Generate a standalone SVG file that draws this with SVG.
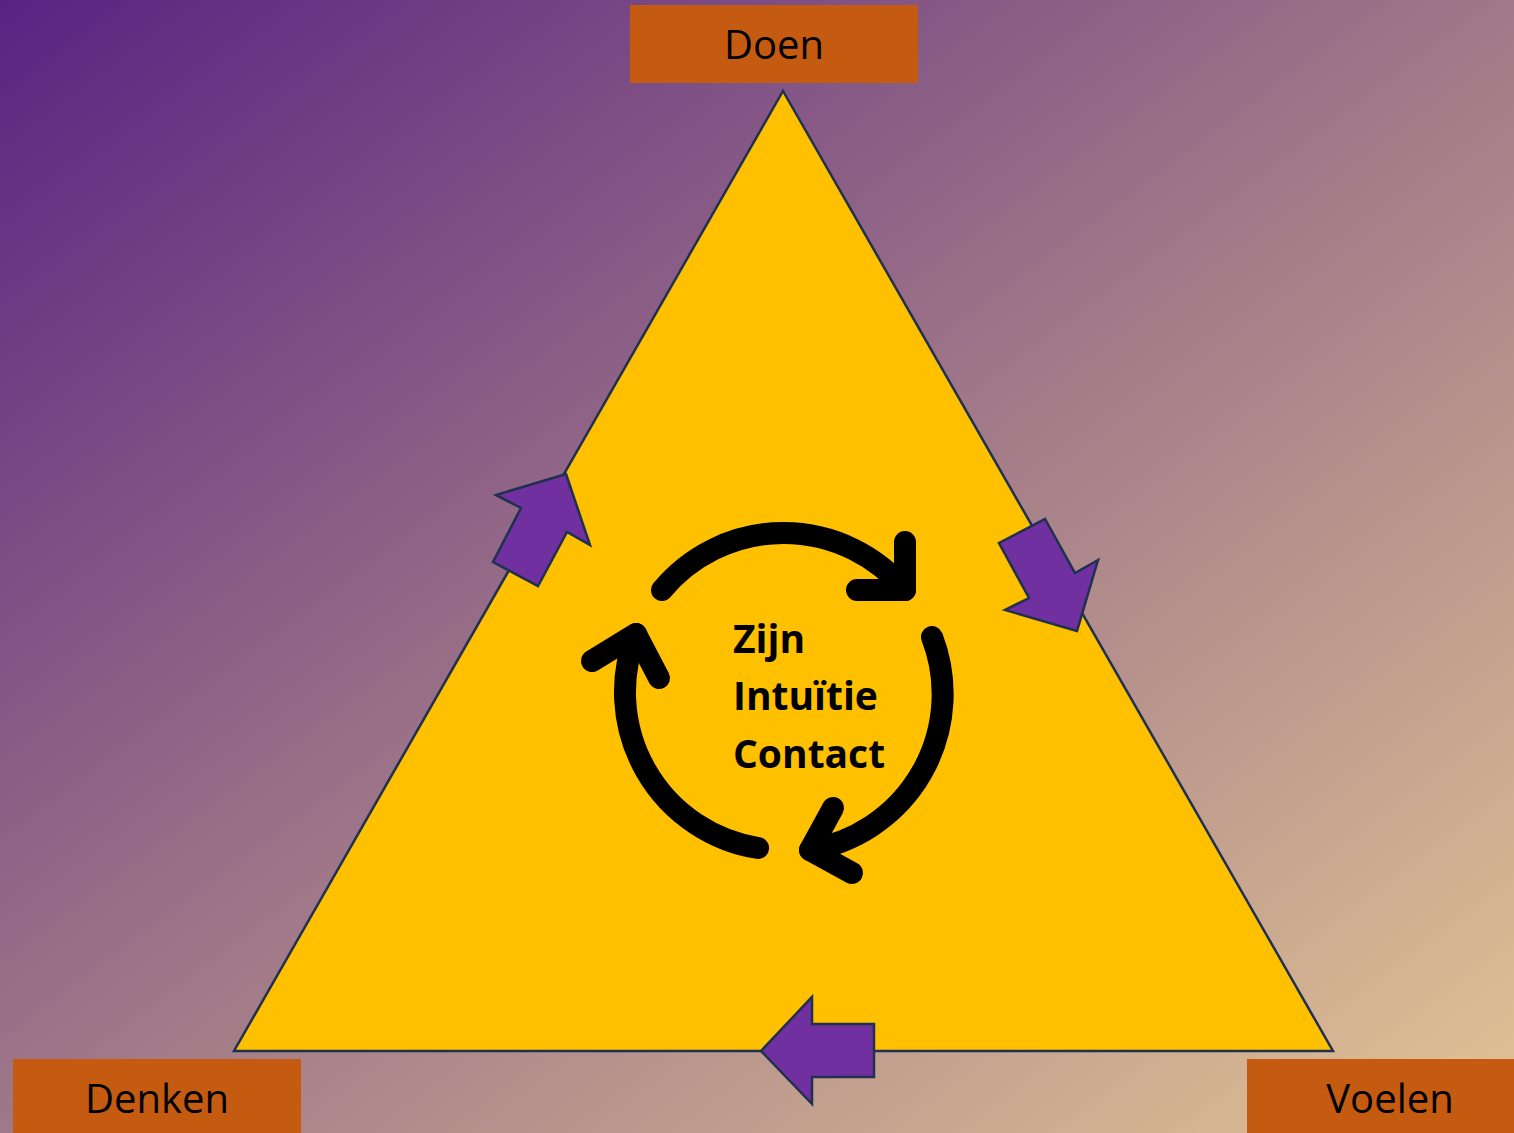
<svg xmlns="http://www.w3.org/2000/svg" width="1514" height="1133" viewBox="0 0 1514 1133">
<defs>
<linearGradient id="bg" x1="0" y1="0" x2="1" y2="1">
<stop offset="0" stop-color="#5a2282"/>
<stop offset="0.5" stop-color="#a07888"/>
<stop offset="1" stop-color="#e2c494"/>
</linearGradient>
<style>
.box{fill:#c55a11}
.lbl{font-family:"Open Sans","Noto Sans",sans-serif;font-size:40px;fill:#000;text-anchor:middle}
.pa{fill:#7030a0;stroke:#1f3050;stroke-width:2.5;stroke-linejoin:miter}
.cyc{fill:none;stroke:#000;stroke-width:22;stroke-linecap:round;stroke-linejoin:round}
.mid{font-family:"Open Sans","Noto Sans",sans-serif;font-size:39px;font-weight:bold;fill:#000}
</style>
</defs>
<rect width="1514" height="1133" fill="url(#bg)"/>
<g id="triangle">
<polygon points="783,91 1333,1051 234,1051" fill="#ffc000" stroke="#1f3050" stroke-width="2.5"/>
</g>
<g id="connectors">
<polygon class="pa" points="566,474 590,545 567,532 538,586 493,562 521,508 496,495"/>
<polygon class="pa" points="1077,631 1005,610 1029,598 999,543 1045,519 1075,573 1098,560"/>
<polygon class="pa" points="761,1051 812,997 812,1024 874,1024 874,1077 812,1077 812,1104"/>
</g>
<g id="cycle">
<path class="cyc" d="M662,590 A158,158 0 0 1 905,590"/>
<polyline class="cyc" points="905,542 905,590 857,590"/>
<path class="cyc" d="M932,637 A158,158 0 0 1 810,850"/>
<polyline class="cyc" points="833,808 810,850 852,873"/>
<path class="cyc" d="M758,848 A158,158 0 0 1 636,634"/>
<polyline class="cyc" points="592,661 636,634 659,678"/>
</g>
<g id="center-text">
<text class="mid" x="733" y="653">Zijn</text>
<text class="mid" x="733" y="710">Intuïtie</text>
<text class="mid" x="733" y="768">Contact</text>
</g>
<g id="node-doen">
<rect class="box" x="630" y="5" width="288" height="78"/>
<text class="lbl" x="774" y="59">Doen</text>
</g>
<g id="node-denken">
<rect class="box" x="13" y="1059" width="288" height="78"/>
<text class="lbl" x="157" y="1113">Denken</text>
</g>
<g id="node-voelen">
<rect class="box" x="1247" y="1059" width="288" height="78"/>
<text class="lbl" x="1390" y="1113">Voelen</text>
</g>
</svg>
